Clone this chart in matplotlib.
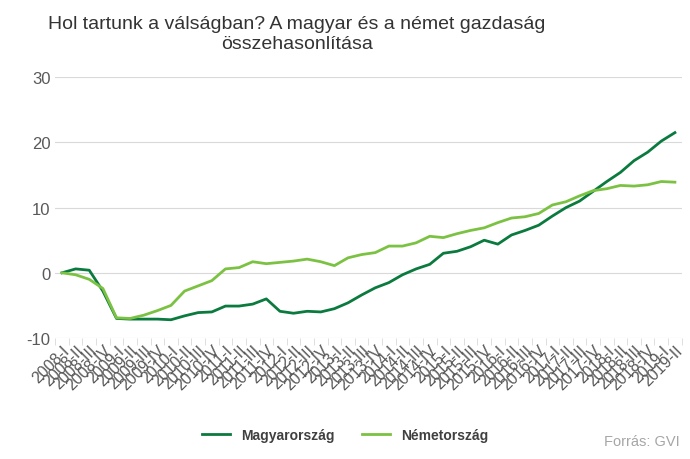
import matplotlib
matplotlib.use("Agg")
import matplotlib.pyplot as plt

roman = ["I", "II", "III", "IV"]
quarters = [f"{y}-{roman[q]}" for y in range(2008, 2020) for q in range(4)][:46]

magyar = [0, 0.6, 0.4, -2.8, -7, -7.1, -7.1, -7.1, -7.2, -6.6,
          -6.1, -6, -5.1, -5.1, -4.8, -4.0, -5.9, -6.2, -5.9, -6.0,
          -5.5, -4.6, -3.4, -2.3, -1.5, -0.3, 0.6, 1.3, 3.0, 3.3,
          4.0, 5.0, 4.4, 5.8, 6.5, 7.3, 8.7, 10.0, 11.0, 12.5,
          14.0, 15.4, 17.2, 18.5, 20.2, 21.5]
nemet = [0, -0.3, -1, -2.4, -6.9, -7.0, -6.5, -5.8, -5.0, -2.8,
         -2.0, -1.2, 0.6, 0.8, 1.7, 1.4, 1.6, 1.8, 2.1, 1.7,
         1.1, 2.3, 2.8, 3.1, 4.1, 4.1, 4.6, 5.6, 5.4, 6.0,
         6.5, 6.9, 7.7, 8.4, 8.6, 9.1, 10.4, 10.9, 11.8, 12.6,
         12.9, 13.4, 13.3, 13.5, 14.0, 13.9]

plt.rcParams["font.family"] = "Liberation Sans"
plt.rcParams["axes.unicode_minus"] = False
fig = plt.figure(figsize=(6.9, 4.6), dpi=100)
ax = fig.add_axes([0.08, 0.263, 0.908, 0.567])

x = range(len(quarters))
ax.plot(x, magyar, color="#0b7a3e", lw=2, label="Magyarország")
ax.plot(x, nemet, color="#7cc242", lw=2, label="Németország")

ax.set_ylim(-10, 30)
ax.set_yticks([-10, 0, 10, 20, 30])
ax.set_xlim(-0.5, len(quarters) - 0.5)
ax.set_xticks(x)
ax.set_xticklabels(quarters, rotation=45, ha="right", rotation_mode="anchor", fontsize=11.5, color="#595959")
ax.set_xticks([i - 0.5 for i in range(len(quarters) + 1)], minor=True)
ax.tick_params(axis="x", which="major", length=0, pad=3)
ax.tick_params(axis="x", which="minor", length=5, color="#d9d9d9")
ax.tick_params(axis="y", length=0, labelsize=12, labelcolor="#595959")
ax.grid(axis="y", color="#d9d9d9", lw=0.8)
ax.set_axisbelow(True)
for s in ["top", "right", "left", "bottom"]:
    ax.spines[s].set_visible(False)

fig.text(0.43, 0.965, "Hol tartunk a válságban? A magyar és a német gazdaság\nösszehasonlítása",
         ha="center", va="top", multialignment="center", fontsize=14, color="#333333")
fig.legend(loc="lower center", bbox_to_anchor=(0.5, 0.01), ncol=2, frameon=False,
           prop={"size": 10, "weight": "bold"}, labelcolor="#404040", handlelength=2)
fig.text(0.985, 0.03, "Forrás: GVI", ha="right", fontsize=10.5, color="#a6a6a6")

fig.savefig("out.png", dpi=100)
